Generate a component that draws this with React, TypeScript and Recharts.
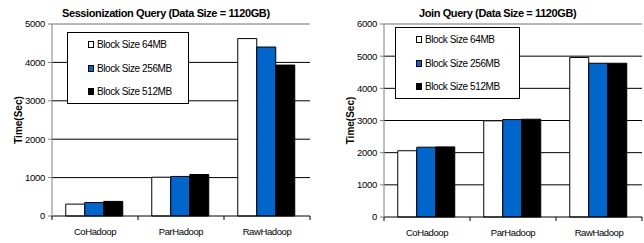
import {
  Bar,
  BarChart,
  CartesianGrid,
  Legend,
  ReferenceLine,
  XAxis,
  YAxis,
} from 'recharts';

const categories = ['CoHadoop', 'ParHadoop', 'RawHadoop'];
const seriesNames = ['Block Size 64MB', 'Block Size 256MB', 'Block Size 512MB'];
const seriesColors = ['#ffffff', '#0066cc', '#000000'];

const sessionization64 = [310, 1010, 4620];
const sessionization256 = [350, 1030, 4400];
const sessionization512 = [380, 1080, 3930];
const sessionizationTicks = [0, 1000, 2000, 3000, 4000, 5000];

const join64 = [2060, 2990, 4960];
const join256 = [2170, 3030, 4780];
const join512 = [2180, 3040, 4780];
const joinTicks = [0, 1000, 2000, 3000, 4000, 5000, 6000];

const FONT = '"Liberation Sans", Arial, sans-serif';
const CHART_W = 322;
const CHART_H = 243;
const X_TICK_SIZE = 4;
const X_TICK_MARGIN = 8;

const toRows = (a: number[], b: number[], c: number[]) =>
  categories.map((name, i) => ({ name, s0: a[i], s1: b[i], s2: c[i] }));

function CategoryTick(props: any) {
  const { x, y, payload, index, visibleTicksCount, width, plotWidth } = props;
  const band = (typeof width === 'number' && width > 0 ? width : plotWidth) / visibleTicksCount;
  const axisY = y - X_TICK_SIZE - X_TICK_MARGIN;
  return (
    <g>
      {index === 0 && (
        <line x1={x - band / 2} x2={x - band / 2} y1={axisY} y2={axisY + 4} stroke="#000" />
      )}
      <line x1={x + band / 2} x2={x + band / 2} y1={axisY} y2={axisY + 4} stroke="#000" />
      <text
        x={x}
        y={y}
        dy="0.71em"
        textAnchor="middle"
        fill="#000"
        fontSize={9.5}
        letterSpacing={-0.4}
        fontFamily={FONT}
      >
        {payload.value}
      </text>
    </g>
  );
}

function LegendBox({ payload }: any) {
  // keep the series order, not the alphabetical one
  const items = [...(payload || [])].sort(
    (a: any, b: any) => seriesNames.indexOf(a.value) - seriesNames.indexOf(b.value),
  );
  return (
    <div style={{ paddingLeft: 20 }}>
      {items.map((entry: any) => (
        <div
          key={entry.value}
          style={{ height: 23.5, display: 'flex', alignItems: 'center', fontSize: 10, letterSpacing: -0.4 }}
        >
          <span
            style={{
              display: 'inline-block',
              width: 4,
              height: 5,
              border: '1px solid #000',
              background: entry.color,
              marginRight: 3,
            }}
          />
          <span>{entry.value}</span>
        </div>
      ))}
    </div>
  );
}

type PanelProps = {
  title: string;
  titleLeft: number;
  rows: { name: string; s0: number; s1: number; s2: number }[];
  ticks: number[];
  yAxisWidth: number;
  marginRight: number;
  marginBottom: number;
  legendLeft: number;
  legendTop: number;
  legendWidth: number;
  labelX: number;
};

function QueryPanel({
  title,
  titleLeft,
  rows,
  ticks,
  yAxisWidth,
  marginRight,
  marginBottom,
  legendLeft,
  legendTop,
  legendWidth,
  labelX,
}: PanelProps) {
  const top = ticks[ticks.length - 1];
  const plotWidth = CHART_W - yAxisWidth - marginRight;
  return (
    <div style={{ position: 'relative', width: CHART_W, height: CHART_H }}>
      <div
        style={{
          position: 'absolute',
          left: titleLeft,
          top: 6,
          fontSize: 11,
          fontWeight: 'bold',
          letterSpacing: -0.4,
          whiteSpace: 'nowrap',
          lineHeight: '14px',
        }}
      >
        {title}
      </div>
      <BarChart
        width={CHART_W}
        height={CHART_H}
        data={rows}
        margin={{ top: 24, right: marginRight, left: 0, bottom: marginBottom }}
        barCategoryGap="16%"
        barGap={0}
      >
        <CartesianGrid vertical={false} horizontalValues={ticks.slice(1, -1)} stroke="#000" />
        <ReferenceLine y={top} stroke="#a0a0a0" strokeWidth={1.5} />
        <XAxis
          dataKey="name"
          height={20}
          axisLine={{ stroke: '#000' }}
          tickLine={false}
          tickSize={X_TICK_SIZE}
          tickMargin={X_TICK_MARGIN}
          tick={<CategoryTick plotWidth={plotWidth} />}
        />
        <YAxis
          width={yAxisWidth}
          domain={[0, top]}
          ticks={ticks}
          interval={0}
          axisLine={{ stroke: '#808080' }}
          tickLine={{ stroke: '#808080' }}
          tickSize={4}
          tickMargin={3}
          tick={{ fill: '#000', fontSize: 9.5, letterSpacing: -0.3, fontFamily: FONT }}
          label={{
            value: 'Time(Sec)',
            angle: -90,
            position: 'center',
            dx: labelX - yAxisWidth / 2,
            fill: '#000',
            fontSize: 10,
            fontWeight: 'bold',
            fontFamily: FONT,
          }}
        />
        <Legend
          layout="vertical"
          align="center"
          verticalAlign="middle"
          content={<LegendBox />}
          wrapperStyle={{
            left: legendLeft,
            top: legendTop,
            width: legendWidth,
            height: 72,
            border: '1px solid #000',
            background: '#fff',
            boxSizing: 'border-box',
            fontFamily: FONT,
          }}
        />
        {['s0', 's1', 's2'].map((key, i) => (
          <Bar
            key={key}
            dataKey={key}
            name={seriesNames[i]}
            fill={seriesColors[i]}
            stroke="#000"
            strokeWidth={1}
            isAnimationActive={false}
          />
        ))}
      </BarChart>
    </div>
  );
}

export default function App() {
  return (
    <div
      style={{
        position: 'absolute',
        left: 0,
        top: 0,
        width: 644,
        height: 243,
        display: 'flex',
        background: '#fff',
        fontFamily: FONT,
      }}
    >
      <QueryPanel
        title="Sessionization Query (Data Size = 1120GB)"
        titleLeft={62}
        rows={toRows(sessionization64, sessionization256, sessionization512)}
        ticks={sessionizationTicks}
        yAxisWidth={52}
        marginRight={12}
        marginBottom={7}
        legendLeft={67}
        legendTop={32}
        legendWidth={122}
        labelX={18}
      />
      <QueryPanel
        title="Join Query (Data Size = 1120GB)"
        titleLeft={97}
        rows={toRows(join64, join256, join512)}
        ticks={joinTicks}
        yAxisWidth={62}
        marginRight={2}
        marginBottom={6}
        legendLeft={73}
        legendTop={27}
        legendWidth={125}
        labelX={28}
      />
    </div>
  );
}
